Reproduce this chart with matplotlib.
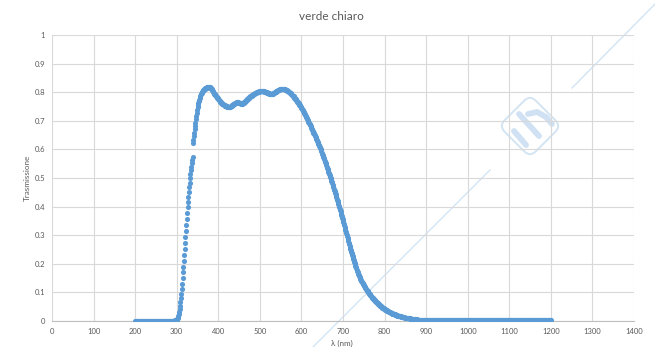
import numpy as np
import matplotlib.pyplot as plt
from matplotlib.lines import Line2D
from matplotlib.patches import FancyBboxPatch
from matplotlib.transforms import Affine2D

# lunghezze d'onda (nm), passo 1 nm
lam = np.arange(200, 1201)

# trasmissione in millesimi, da 200 a 1200 nm
trasm_milli = [
    0, 0, 0, 0, 0, 0, 0, 0, 0, 0,
    0, 0, 0, 0, 0, 0, 0, 0, 0, 0,
    0, 0, 0, 0, 0, 0, 0, 0, 0, 0,
    0, 0, 0, 0, 0, 0, 0, 0, 0, 0,
    0, 0, 0, 0, 0, 0, 0, 0, 0, 0,
    0, 0, 0, 0, 0, 0, 0, 0, 0, 0,
    0, 0, 0, 0, 0, 0, 0, 0, 0, 0,
    0, 0, 0, 0, 0, 0, 0, 0, 0, 0,
    0, 0, 0, 0, 0, 0, 0, 0, 0, 0,
    0, 0, 0, 1, 1, 1, 2, 2, 3, 4,
    5, 7, 10, 14, 19, 25, 33, 42, 53, 66,
    80, 96, 113, 131, 150, 170, 190, 210, 231, 252,
    273, 294, 315, 336, 357, 377, 397, 416, 434, 452,
    468, 484, 499, 513, 527, 540, 552, 563, 575, 622,
    634, 646, 658, 670, 682, 694, 705, 716, 727, 738,
    748, 755, 762, 768, 774, 779, 784, 788, 792, 795,
    798, 800, 802, 804, 806, 808, 810, 811, 812, 813,
    814, 815, 816, 817, 817, 818, 818, 818, 818, 818,
    817, 816, 815, 813, 811, 809, 806, 803, 800, 797,
    795, 793, 791, 789, 787, 786, 784, 782, 780, 778,
    776, 774, 772, 770, 768, 766, 765, 763, 762, 760,
    759, 758, 757, 756, 755, 754, 753, 753, 752, 751,
    751, 750, 750, 749, 749, 749, 749, 749, 750, 750,
    751, 752, 753, 754, 755, 756, 757, 758, 759, 760,
    761, 762, 763, 763, 764, 764, 764, 764, 764, 763,
    763, 762, 762, 761, 761, 760, 760, 760, 760, 761,
    762, 763, 764, 766, 767, 769, 770, 772, 773, 775,
    776, 777, 779, 780, 781, 782, 784, 785, 786, 787,
    788, 789, 790, 791, 792, 793, 794, 795, 796, 797,
    797, 798, 799, 800, 800, 801, 801, 802, 802, 803,
    803, 803, 804, 804, 804, 804, 804, 804, 803, 803,
    803, 802, 802, 801, 800, 800, 799, 798, 798, 797,
    797, 796, 796, 795, 795, 795, 794, 794, 794, 794,
    795, 795, 796, 796, 797, 798, 799, 800, 801, 802,
    803, 804, 805, 806, 807, 808, 809, 809, 810, 810,
    811, 811, 811, 811, 811, 811, 811, 810, 810, 810,
    810, 809, 809, 808, 807, 806, 805, 804, 803, 802,
    801, 800, 798, 797, 796, 794, 793, 791, 790, 788,
    786, 785, 783, 781, 779, 777, 775, 773, 771, 769,
    767, 765, 763, 761, 759, 756, 754, 752, 750, 747,
    745, 742, 740, 737, 735, 732, 729, 726, 724, 721,
    718, 715, 712, 709, 706, 703, 700, 697, 694, 691,
    688, 685, 682, 678, 675, 672, 669, 666, 662, 659,
    656, 653, 650, 647, 644, 640, 637, 634, 630, 627,
    623, 620, 616, 612, 609, 605, 601, 597, 593, 589,
    585, 581, 577, 573, 569, 565, 561, 557, 553, 548,
    544, 540, 535, 531, 527, 522, 518, 513, 509, 504,
    500, 495, 491, 486, 481, 477, 472, 467, 462, 457,
    453, 448, 443, 438, 433, 428, 423, 418, 413, 408,
    403, 398, 393, 388, 383, 377, 372, 367, 361, 356,
    351, 345, 340, 334, 329, 323, 318, 312, 307, 301,
    296, 290, 285, 279, 274, 268, 263, 258, 252, 247,
    242, 237, 232, 227, 222, 217, 212, 207, 202, 198,
    193, 189, 184, 180, 176, 172, 168, 164, 160, 156,
    153, 150, 147, 144, 141, 138, 135, 133, 130, 128,
    125, 123, 120, 118, 115, 113, 111, 108, 106, 104,
    102, 100, 98, 96, 94, 92, 90, 88, 86, 84,
    82, 81, 79, 77, 76, 74, 72, 71, 69, 68,
    66, 65, 63, 62, 61, 59, 58, 57, 55, 54,
    53, 52, 51, 49, 48, 47, 46, 45, 44, 43,
    42, 41, 40, 39, 38, 37, 36, 35, 35, 34,
    33, 32, 31, 31, 30, 29, 28, 28, 27, 26,
    26, 25, 24, 24, 23, 23, 22, 21, 21, 20,
    20, 19, 19, 18, 18, 17, 17, 16, 16, 16,
    15, 15, 14, 14, 14, 13, 13, 13, 12, 12,
    12, 11, 11, 11, 10, 10, 10, 10, 9, 9,
    9, 9, 8, 8, 8, 8, 8, 7, 7, 7,
    7, 7, 6, 6, 6, 6, 6, 6, 5, 5,
    5, 5, 5, 5, 5, 5, 4, 4, 4, 4,
    4, 4, 4, 4, 4, 3, 3, 3, 3, 3,
    3, 3, 3, 3, 3, 3, 3, 3, 3, 3,
    3, 3, 3, 3, 3, 3, 2, 3, 3, 3,
    3, 3, 3, 3, 3, 3, 3, 3, 3, 3,
    3, 3, 3, 2, 3, 3, 3, 3, 3, 3,
    3, 3, 3, 3, 3, 3, 3, 3, 3, 3,
    3, 3, 3, 3, 3, 2, 3, 3, 3, 3,
    3, 3, 3, 3, 3, 3, 3, 3, 3, 3,
    2, 2, 2, 2, 2, 2, 2, 2, 2, 2,
    2, 2, 2, 2, 2, 2, 2, 2, 2, 2,
    2, 2, 2, 2, 2, 2, 2, 2, 2, 2,
    2, 2, 2, 2, 2, 2, 2, 2, 2, 2,
    2, 2, 2, 2, 2, 2, 2, 2, 2, 2,
    2, 2, 2, 2, 2, 2, 2, 2, 2, 2,
    2, 2, 2, 2, 2, 2, 2, 2, 2, 2,
    2, 2, 2, 2, 2, 2, 2, 2, 2, 2,
    2, 2, 2, 2, 2, 2, 2, 2, 2, 2,
    2, 2, 2, 2, 2, 2, 2, 2, 2, 2,
    2, 2, 2, 2, 2, 2, 2, 2, 2, 2,
    2, 2, 2, 2, 2, 2, 2, 2, 2, 2,
    2, 2, 2, 2, 2, 2, 2, 2, 2, 2,
    2, 2, 2, 2, 2, 2, 2, 2, 2, 2,
    2, 2, 2, 2, 2, 2, 2, 2, 2, 2,
    2, 2, 2, 2, 2, 2, 2, 2, 2, 2,
    2, 2, 2, 2, 2, 2, 2, 2, 2, 2,
    2, 2, 2, 2, 2, 2, 2, 2, 2, 2,
    2, 2, 2, 2, 2, 2, 2, 2, 2, 2,
    2, 2, 2, 2, 2, 2, 2, 2, 2, 2,
    2, 2, 2, 2, 2, 2, 2, 2, 2, 2,
    2, 2, 2, 2, 2, 2, 2, 2, 2, 2,
    2, 2, 2, 2, 2, 2, 2, 2, 2, 2,
    2,
]
trasm = np.array(trasm_milli) / 1000.0

x_ticks = list(range(0, 1401, 100))
y_ticks = [0, 0.1, 0.2, 0.3, 0.4, 0.5, 0.6, 0.7, 0.8, 0.9, 1]
y_tick_labels = ['0', '0.1', '0.2', '0.3', '0.4', '0.5', '0.6', '0.7', '0.8', '0.9', '1']

plt.rcParams['font.family'] = ['Lato', 'DejaVu Sans']
grigio = '#595959'
blu = '#5B9BD5'
filigrana = '#D3E4F3'

fig = plt.figure(figsize=(6.55, 3.47), dpi=100)
fig.patch.set_facecolor('white')

# filigrana diagonale dietro il grafico
fig.add_artist(Line2D([313 / 655, 490 / 655], [0, 1 - 170 / 347],
                      transform=fig.transFigure, color=filigrana, lw=1.0, zorder=-5))
fig.add_artist(Line2D([572 / 655, 660 / 655], [1 - 88 / 347, 1 + 1 / 347],
                      transform=fig.transFigure, color=filigrana, lw=1.0, zorder=-5))

# logo (quadrato arrotondato ruotato a rombo) in coordinate pixel
cx, cy = 530, 347 - 126
rot = Affine2D().rotate_deg_around(cx, cy, 45)
logo = FancyBboxPatch((cx - 22, cy - 22), 44, 44,
                      boxstyle='round,pad=0,rounding_size=8',
                      transform=rot, fill=False, edgecolor=filigrana, lw=1.4, zorder=-5)
fig.add_artist(logo)
tratti = [([514, 526], [216, 202]),
          ([519, 539], [233, 211]),
          ([528, 537, 546, 552], [233, 235, 230, 223])]
for tx, ty in tratti:
    fig.add_artist(Line2D(tx, ty, transform=Affine2D(), color='#CFE1F2',
                          lw=4.2, solid_capstyle='round', solid_joinstyle='round',
                          zorder=-5))

ax = fig.add_axes([52 / 655, 1 - 321 / 347, (634 - 52) / 655, (321 - 35) / 347])
ax.patch.set_alpha(0)

ax.plot(lam, trasm, 'o', color=blu, ms=3.7, mec='none', zorder=3)

ax.set_xlim(0, 1400)
ax.set_ylim(0, 1)
ax.set_xticks(x_ticks)
ax.set_yticks(y_ticks)
ax.set_yticklabels(y_tick_labels)
ax.grid(True, color='#D9D9D9', lw=0.8)
ax.set_axisbelow(True)
for lato in ['top', 'right', 'left']:
    ax.spines[lato].set_visible(False)
ax.spines['bottom'].set_color('#BFBFBF')
ax.spines['bottom'].set_linewidth(0.8)
ax.tick_params(length=0, labelsize=5.5, colors=grigio, pad=5)

fig.text(331 / 655, 1 - 17 / 347, 'verde chiaro', ha='center', va='center',
         fontsize=8.5, color=grigio)
fig.text(27 / 655, 1 - 178 / 347, 'Trasmissione', ha='center', va='center',
         rotation=90, fontsize=5.8, color=grigio)
fig.text(342 / 655, 1 - 343 / 347, 'λ (nm)', ha='center', va='center',
         fontsize=5.8, color=grigio)

fig.savefig('out.png', dpi=100)
